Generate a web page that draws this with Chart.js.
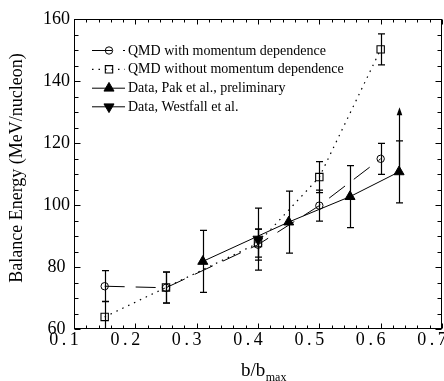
<!DOCTYPE html>
<html>
<head>
<meta charset="utf-8">
<script src="https://cdn.jsdelivr.net/npm/chart.js@4.4.0/dist/chart.umd.min.js"></script>
<style>
html,body{margin:0;padding:0;background:#fff;}
canvas{display:block;}
</style>
</head>
<body>
<canvas id="c" width="444" height="381"></canvas>
<script>
// ---- data ----
const seriesLabels = [
  'QMD with momentum dependence',
  'QMD without momentum dependence',
  'Data, Pak et al., preliminary',
  'Data, Westfall et al.'
];
const qmdMomX   = [0.15, 0.25, 0.40, 0.50, 0.60];
const qmdMomY   = [73.8, 73.3, 87.2, 99.8, 114.9];
const qmdMomErr = [5, 5, 5, 5, 5];

const qmdNoMomX   = [0.15, 0.25, 0.40, 0.50, 0.60];
const qmdNoMomY   = [63.9, 73.4, 87.7, 109.0, 150.2];
const qmdNoMomErr = [5, 5, 4.5, 5, 5];

const pakX     = [0.31, 0.45, 0.55, 0.63];
const pakY     = [81.8, 94.5, 102.7, 110.7];
const pakErr   = [10, 10, 10, 10];
const pakArrow = [null, null, null, 131.5];

const westX   = [0.40];
const westY   = [89.0];
const westErr = [10];

const xTickValues = [0.1, 0.2, 0.3, 0.4, 0.5, 0.6, 0.7];
const xTickLabels = ['0\u2009.\u20091','0\u2009.\u20092','0\u2009.\u20093','0\u2009.\u20094','0\u2009.\u20095','0\u2009.\u20096','0\u2009.\u20097'];
const yTickValues = [60, 80, 100, 120, 140, 160];
const yTickLabels = ['60', '80', '100', '120', '140', '160'];

const xTitle = 'b/b';
const xTitleSub = 'max';
const yTitle = 'Balance Energy (MeV/nucleon)';

const SERIF = "'Liberation Serif', 'Times New Roman', serif";
const pts = (xs, ys) => xs.map((v, i) => ({x: v, y: ys[i]}));

// ---- plugins ----
const errorBars = {
  id: 'errorBars',
  beforeDatasetsDraw(chart) {
    const {ctx, chartArea: a, scales: {x, y}} = chart;
    ctx.save();
    ctx.beginPath();
    ctx.rect(a.left, a.top, a.right - a.left, a.bottom - a.top);
    ctx.clip();
    ctx.strokeStyle = '#000';
    ctx.fillStyle = '#000';
    ctx.lineWidth = 1.2;
    chart.data.datasets.forEach(ds => {
      (ds.errors || []).forEach((e, i) => {
        const p = ds.data[i];
        const px = Math.round(x.getPixelForValue(p.x)) + 0.5;
        const yt = y.getPixelForValue(p.y + e);
        const yb = y.getPixelForValue(p.y - e);
        ctx.beginPath();
        ctx.moveTo(px, yt); ctx.lineTo(px, yb);
        ctx.moveTo(px - 3.5, yt); ctx.lineTo(px + 3.5, yt);
        ctx.moveTo(px - 3.5, yb); ctx.lineTo(px + 3.5, yb);
        ctx.stroke();
      });
      (ds.arrowTo || []).forEach((a2, i) => {
        if (a2 == null) return;
        const p = ds.data[i];
        const px = Math.round(x.getPixelForValue(p.x)) + 0.5;
        const y0 = y.getPixelForValue(p.y);
        const y1 = y.getPixelForValue(a2);
        ctx.beginPath();
        ctx.moveTo(px, y0); ctx.lineTo(px, y1 + 5);
        ctx.stroke();
        ctx.beginPath();
        ctx.moveTo(px, y1);
        ctx.lineTo(px - 2.8, y1 + 8);
        ctx.lineTo(px + 2.8, y1 + 8);
        ctx.closePath();
        ctx.fill();
      });
    });
    ctx.restore();
  }
};

const frameTicks = {
  id: 'frameTicks',
  afterDatasetsDraw(chart) {
    const {ctx, chartArea: a, scales: {x, y}} = chart;
    ctx.save();
    ctx.strokeStyle = '#000';
    ctx.lineWidth = 1;
    const L = Math.round(a.left) + 0.5, R = Math.round(a.right) - 0.5;
    const T = Math.round(a.top) + 0.5, B = Math.round(a.bottom) - 0.5;
    ctx.strokeRect(L, T, R - L, B - T);
    ctx.beginPath();
    const xmin = x.min, xmax = x.max;
    for (let k = 0; ; k++) {
      const v = xmin + k * 0.02;
      if (v > xmax + 1e-9) break;
      const px = Math.round(x.getPixelForValue(v)) + 0.5;
      const len = (k % 5 === 0) ? 5 : 3;
      ctx.moveTo(px, B); ctx.lineTo(px, B - len);
      ctx.moveTo(px, T); ctx.lineTo(px, T + len);
    }
    for (let k = 0; ; k++) {
      const v = y.min + k * 5;
      if (v > y.max + 1e-9) break;
      const py = Math.round(y.getPixelForValue(v)) + 0.5;
      const len = (k % 4 === 0) ? 6 : 4;
      ctx.moveTo(L, py); ctx.lineTo(L + len, py);
      ctx.moveTo(R, py); ctx.lineTo(R - len, py);
    }
    ctx.stroke();
    ctx.restore();
  }
};

const titlesLegend = {
  id: 'titlesLegend',
  afterDraw(chart) {
    const {ctx} = chart;
    ctx.save();
    ctx.fillStyle = '#000';
    // y title
    ctx.save();
    ctx.translate(17, 168);
    ctx.rotate(-Math.PI / 2);
    ctx.font = '18px ' + SERIF;
    ctx.textAlign = 'center';
    ctx.textBaseline = 'middle';
    ctx.fillText(yTitle, 0, 0);
    ctx.restore();
    // x title
    ctx.font = '19px ' + SERIF;
    ctx.textAlign = 'left';
    ctx.textBaseline = 'alphabetic';
    const wMain = ctx.measureText(xTitle).width;
    const startX = 241;
    ctx.fillText(xTitle, startX, 376);
    ctx.font = '12px ' + SERIF;
    ctx.fillText(xTitleSub, startX + wMain + 0.5, 380.5);

    // legend
    const rowY = [50.5, 69.3, 88.2, 106.8];
    chart.data.datasets.forEach((ds, i) => {
      const yy = rowY[i];
      ctx.save();
      ctx.strokeStyle = '#000';
      ctx.lineWidth = ds.borderWidth;
      ctx.setLineDash(ds.borderDash || []);
      ctx.beginPath();
      ctx.moveTo(92, yy); ctx.lineTo(125, yy);
      ctx.stroke();
      ctx.restore();
      ctx.save();
      ctx.strokeStyle = '#000';
      ctx.lineWidth = ds.pointBorderWidth;
      ctx.fillStyle = ds.pointBackgroundColor;
      Chart.helpers.drawPoint(ctx, {
        pointStyle: ds.pointStyle,
        radius: ds.pointRadius,
        rotation: ds.pointRotation || 0,
        borderWidth: ds.pointBorderWidth
      }, 109, yy);
      ctx.restore();
      ctx.font = '14px ' + SERIF;
      ctx.textAlign = 'left';
      ctx.textBaseline = 'middle';
      ctx.fillStyle = '#000';
      ctx.fillText(ds.label, 128, yy + 0.5);
    });
    ctx.restore();
  }
};

// ---- chart ----
new Chart(document.getElementById('c'), {
  type: 'scatter',
  data: {
    datasets: [
      {
        label: seriesLabels[0],
        data: pts(qmdMomX, qmdMomY),
        errors: qmdMomErr,
        showLine: true,
        borderColor: '#000',
        borderWidth: 1,
        borderDash: [20, 11],
        pointStyle: 'circle',
        pointRadius: 3.7,
        pointBorderWidth: 1,
        pointBorderColor: '#000',
        pointBackgroundColor: 'rgba(0,0,0,0)'
      },
      {
        label: seriesLabels[1],
        data: pts(qmdNoMomX, qmdNoMomY),
        errors: qmdNoMomErr,
        showLine: true,
        borderColor: '#000',
        borderWidth: 1.2,
        borderDash: [1.5, 5],
        pointStyle: 'rect',
        pointRadius: 5.2,
        pointBorderWidth: 1.1,
        pointBorderColor: '#000',
        pointBackgroundColor: 'rgba(0,0,0,0)'
      },
      {
        label: seriesLabels[2],
        data: pts(pakX, pakY),
        errors: pakErr,
        arrowTo: pakArrow,
        showLine: true,
        borderColor: '#000',
        borderWidth: 1,
        pointStyle: 'triangle',
        pointRadius: 5.8,
        pointBorderWidth: 1,
        pointBorderColor: '#000',
        pointBackgroundColor: '#000'
      },
      {
        label: seriesLabels[3],
        data: pts(westX, westY),
        errors: westErr,
        showLine: true,
        borderColor: '#000',
        borderWidth: 1,
        pointStyle: 'triangle',
        pointRotation: 180,
        pointRadius: 5.8,
        pointBorderWidth: 1,
        pointBorderColor: '#000',
        pointBackgroundColor: '#000'
      }
    ]
  },
  options: {
    responsive: false,
    animation: false,
    events: [],
    devicePixelRatio: 1,
    layout: {autoPadding: false, padding: {top: 19, right: 2, left: 0, bottom: 0}},
    plugins: {legend: {display: false}, tooltip: {enabled: false}, title: {display: false}},
    scales: {
      x: {
        type: 'linear',
        min: 0.1, max: 0.7,
        afterBuildTicks: s => { s.ticks = xTickValues.map(v => ({value: v})); },
        afterFit: s => { s.height = 52; s.paddingLeft = 0; s.paddingRight = 0; },
        ticks: {
          callback: (v, i) => xTickLabels[i],
          font: {family: SERIF, size: 18},
          color: '#000',
          padding: 0,
          labelOffset: -10,
          maxRotation: 0,
          minRotation: 0,
          autoSkip: false
        },
        grid: {display: false, drawTicks: false},
        border: {display: false}
      },
      y: {
        type: 'linear',
        min: 60, max: 160,
        afterBuildTicks: s => { s.ticks = yTickValues.map(v => ({value: v})); },
        afterFit: s => { s.width = 74; s.paddingTop = 0; s.paddingBottom = 0; },
        ticks: {
          callback: (v, i) => yTickLabels[i],
          font: {family: SERIF, size: 18},
          color: '#000',
          padding: 4,
          crossAlign: 'center',
          autoSkip: false
        },
        grid: {display: false, drawTicks: false},
        border: {display: false}
      }
    }
  },
  plugins: [errorBars, frameTicks, titlesLegend]
});
</script>
</body>
</html>
